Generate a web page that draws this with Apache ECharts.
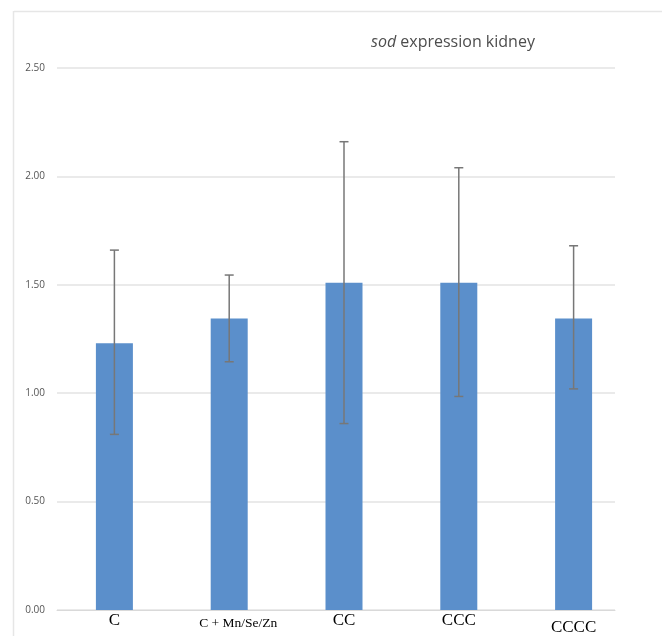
<!DOCTYPE html>
<html><head><meta charset="utf-8">
<script src="https://cdn.jsdelivr.net/npm/echarts@6/dist/echarts.min.js"></script>
<style>html,body{margin:0;padding:0;background:#fff}#c{width:662px;height:636px}</style>
</head><body><div id="c"></div>
<script>
var categories = ['C', 'C + Mn/Se/Zn', 'CC', 'CCC', 'CCCC'];
var means = [1.23, 1.345, 1.51, 1.51, 1.345];
var errHigh = [1.66, 1.545, 2.16, 2.04, 1.68];
var errLow = [0.81, 1.145, 0.86, 0.985, 1.02];
var yTicks = [0, 0.5, 1, 1.5, 2, 2.5];

var chart = echarts.init(document.getElementById('c'));
var errData = categories.map(function (c, i) { return [i, errLow[i], errHigh[i]]; });
chart.setOption({
  animation: false,
  title: {
    text: '{i|sod} expression kidney',
    left: 366, top: 29,
    textStyle: { fontFamily: 'Open Sans', fontSize: 16, fontWeight: 'normal', color: '#4d4d4d',
      rich: { i: { fontFamily: 'Open Sans', fontSize: 16, fontStyle: 'italic', color: '#4d4d4d' } } }
  },
  graphic: [
    { type: 'line', shape: { x1: 14, y1: 11.5, x2: 662, y2: 11.5 }, style: { stroke: '#e6e6e6', lineWidth: 1.5 } },
    { type: 'line', shape: { x1: 13.5, y1: 11, x2: 13.5, y2: 636 }, style: { stroke: '#e6e6e6', lineWidth: 1.5 } }
  ],
  grid: [
    { left: 57, right: 47, top: 68, bottom: 26, containLabel: false, outerBoundsMode: 'none' },
    { left: 57, right: 31, top: 68, bottom: 26, containLabel: false, outerBoundsMode: 'none' }
  ],
  xAxis: [
    { type: 'category', gridIndex: 0, data: categories,
      axisLine: { show: true, lineStyle: { color: '#d9d9d9' } },
      axisTick: { show: false }, axisLabel: { show: false } },
    { type: 'category', gridIndex: 1, data: categories,
      axisLine: { show: false }, axisTick: { show: false },
      axisLabel: { margin: 3, interval: 0, hideOverlap: false,
        formatter: function (v, i) {
          if (i === 1) return '{s|' + v + '}';
          if (i === 4) return '{d|' + v + '}';
          return '{n|' + v + '}';
        },
        rich: {
          n: { fontFamily: 'Liberation Serif', fontSize: 17, color: '#000', height: 16 },
          s: { fontFamily: 'Liberation Serif', fontSize: 13.5, color: '#000', height: 16, padding: [2, 0, 0, 18] },
          d: { fontFamily: 'Liberation Serif', fontSize: 17, color: '#000', height: 16, padding: [7, 0, 0, 0] }
        } } }
  ],
  yAxis: [
    { type: 'value', gridIndex: 0, min: 0, max: 2.5, interval: 0.5,
      axisLine: { show: false }, axisTick: { show: false },
      axisLabel: { fontFamily: 'Open Sans', fontSize: 10, color: '#555', margin: 12,
        formatter: function (v) { return v.toFixed(2); } },
      splitLine: { lineStyle: { color: '#e3e3e3', width: 1.5 } } },
    { type: 'value', gridIndex: 1, min: 0, max: 2.5, interval: 0.5, show: false, splitLine: { show: false } }
  ],
  series: [
    { type: 'bar', xAxisIndex: 1, yAxisIndex: 1, data: means, barWidth: 37,
      itemStyle: { color: '#5b8fcb' } },
    { type: 'custom', xAxisIndex: 1, yAxisIndex: 1, data: errData, z: 10,
      renderItem: function (params, api) {
        var x = api.value(0);
        var lo = api.coord([x, api.value(1)]);
        var hi = api.coord([x, api.value(2)]);
        var st = { stroke: '#777777', lineWidth: 1.5 };
        var w = 4.5;
        return { type: 'group', children: [
          { type: 'line', shape: { x1: hi[0], y1: hi[1], x2: lo[0], y2: lo[1] }, style: st },
          { type: 'line', shape: { x1: hi[0] - w, y1: hi[1], x2: hi[0] + w, y2: hi[1] }, style: st },
          { type: 'line', shape: { x1: lo[0] - w, y1: lo[1], x2: lo[0] + w, y2: lo[1] }, style: st }
        ] };
      } }
  ]
});
</script></body></html>
